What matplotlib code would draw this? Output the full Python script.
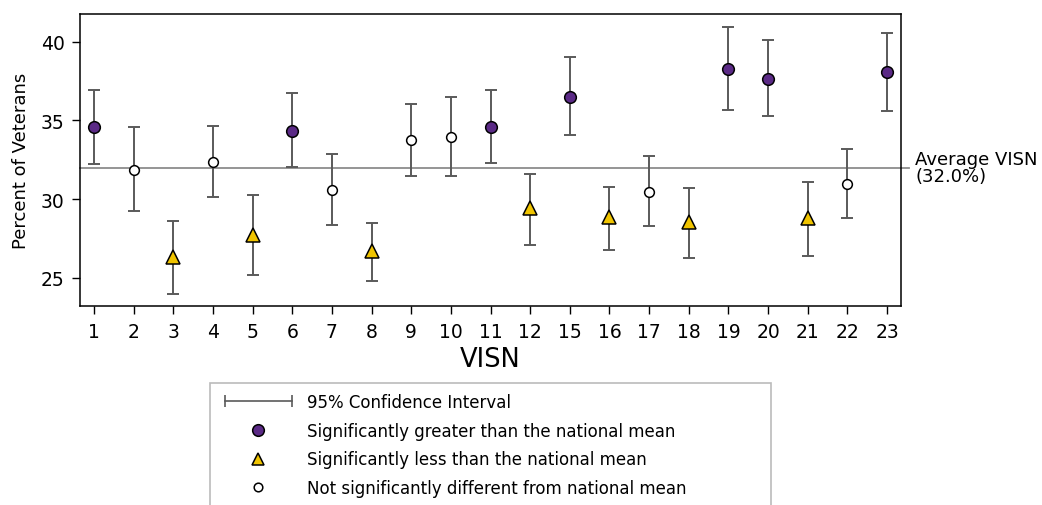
import matplotlib
matplotlib.use('Agg')
import matplotlib.pyplot as plt
from matplotlib.lines import Line2D
from matplotlib.legend_handler import HandlerLine2D
import matplotlib.transforms as mtransforms

# VISN values
visn = ['1', '2', '3', '4', '5', '6', '7', '8', '9', '10', '11', '12',
        '15', '16', '17', '18', '19', '20', '21', '22', '23']
percent = [34.56, 31.84, 26.29, 32.37, 27.71, 34.32, 30.57, 26.68, 33.75, 33.94, 34.56,
           29.41, 36.50, 28.84, 30.46, 28.56, 38.26, 37.63, 28.77, 30.93, 38.05]
ci_low = [32.24, 29.24, 23.98, 30.11, 25.15, 32.02, 28.37, 24.79, 31.44, 31.44, 32.31,
          27.09, 34.09, 26.78, 28.30, 26.25, 35.68, 35.28, 26.38, 28.79, 35.61]
ci_high = [36.95, 34.58, 28.62, 34.62, 30.25, 36.74, 32.84, 28.47, 36.06, 36.50, 36.95,
           31.61, 39.01, 30.78, 32.71, 30.72, 40.95, 40.09, 31.08, 33.16, 40.53]
# 'g' greater, 'l' less, 'n' not significant
status = ['g', 'n', 'l', 'n', 'l', 'g', 'n', 'l', 'n', 'n', 'g',
          'l', 'g', 'l', 'n', 'l', 'g', 'g', 'l', 'n', 'g']
national_mean = 32.0

purple = '#5b2a86'
yellow = '#f0c400'
bar_color = '#5a5a5a'

styles = {
    'g': dict(marker='o', markersize=8.4, markerfacecolor=purple),
    'l': dict(marker='^', markersize=10.5, markerfacecolor=yellow),
    'n': dict(marker='o', markersize=7.0, markerfacecolor='white'),
}

fig = plt.figure(figsize=(10.42, 5.06), dpi=100)
ax = fig.add_axes([80 / 1042, 1 - 307.3 / 506, 821.3 / 1042, 292.6 / 506])

x = list(range(len(visn)))

# average line, runs a little past the right edge of the axes
trans = mtransforms.blended_transform_factory(ax.transAxes, ax.transData)
ax.plot([0, 1.0094], [national_mean, national_mean], color='#8c8c8c', lw=1.3,
        transform=trans, clip_on=False, zorder=1)
ax.text(1.0167, national_mean, 'Average VISN\n(32.0%)', transform=trans,
        va='center', ha='left', fontsize=13, linespacing=0.9)

# confidence intervals
yerr = [[p - lo for p, lo in zip(percent, ci_low)],
        [hi - p for p, hi in zip(percent, ci_high)]]
ax.errorbar(x, percent, yerr=yerr, fmt='none', ecolor=bar_color, elinewidth=1.4,
            capsize=4.2, capthick=1.4, zorder=2)

for xi, p, s in zip(x, percent, status):
    ax.plot([xi], [p], linestyle='none', markeredgecolor='black',
            markeredgewidth=1.1, zorder=3, **styles[s])

ax.set_xlim(-0.353, 20.36)
ax.set_ylim(23.18, 41.78)
ax.set_xticks(x)
ax.set_xticklabels(visn)
ax.set_yticks([25, 30, 35, 40])
ax.tick_params(direction='out', length=6, width=1, labelsize=13.5, pad=5)
for sp in ax.spines.values():
    sp.set_linewidth(1.1)
ax.set_xlabel('VISN', fontsize=18.5, labelpad=4)
ax.set_ylabel('Percent of Veterans', fontsize=13, labelpad=8)

# legend
h_ci = Line2D([], [], color=bar_color, lw=1.2, marker='|', markersize=8,
              markeredgewidth=1.2)
h_g = Line2D([], [], linestyle='none', markeredgecolor='black', markeredgewidth=1.1,
             **styles['g'])
h_l = Line2D([], [], linestyle='none', markeredgecolor='black', markeredgewidth=1.1,
             marker='^', markersize=9, markerfacecolor=yellow)
h_n = Line2D([], [], linestyle='none', markeredgecolor='black', markeredgewidth=1.1,
             marker='o', markersize=6.2, markerfacecolor='white')
labels = ['95% Confidence Interval',
          'Significantly greater than the national mean',
          'Significantly less than the national mean',
          'Not significantly different from national mean']
leg = fig.legend([h_ci, h_g, h_l, h_n], labels, loc='upper left', mode='expand',
                 bbox_to_anchor=(210 / 1042, 1 - 384 / 506, 561 / 1042, 0),
                 fontsize=12, fancybox=False, edgecolor='#bbbbbb', framealpha=1,
                 handlelength=4.6, handletextpad=0.6, labelspacing=0.64,
                 borderpad=0.6, borderaxespad=0,
                 handler_map={h_ci: HandlerLine2D(numpoints=2),
                              h_g: HandlerLine2D(numpoints=1),
                              h_l: HandlerLine2D(numpoints=1),
                              h_n: HandlerLine2D(numpoints=1)})
leg.get_frame().set_linewidth(1.2)

fig.savefig('out.png', dpi=100)
